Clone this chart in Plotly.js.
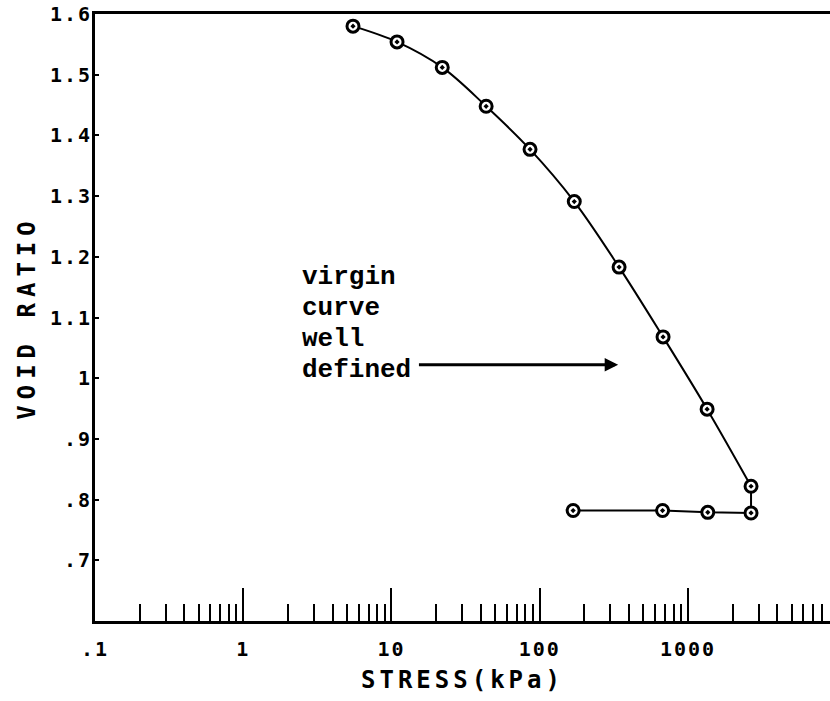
<!DOCTYPE html>
<html>
<head>
<meta charset="utf-8">
<script src="https://cdn.plot.ly/plotly-3.0.1.min.js"></script>
<style>
  html, body { margin: 0; padding: 0; background: #fff; }
  #chart { width: 830px; height: 701px; }
  .xtitle { letter-spacing: 4px; }
  .ytitle { letter-spacing: 6px; }
  .xtick text, .ytick text { letter-spacing: 2px; }
</style>
</head>
<body>
<div id="chart"></div>
<script>
// ---- data ----
const loadStress = [5.5, 10.9, 22.0, 43.5, 86, 171, 343, 679, 1346, 2663];
const loadVoid   = [1.580, 1.554, 1.512, 1.448, 1.377, 1.291, 1.183, 1.068, 0.949, 0.822];
const unloadStress = [2663, 1360, 674, 168];
const unloadVoid   = [0.778, 0.779, 0.782, 0.782];

const xTickVals = [0.1, 1, 10, 100, 1000];
const xTickText = [".1", "1", "10", "100", "1000"];
const xMinorVals = [0.2,0.3,0.4,0.5,0.6,0.7,0.8,0.9,
                    2,3,4,5,6,7,8,9,
                    20,30,40,50,60,70,80,90,
                    200,300,400,500,600,700,800,900,
                    2000,3000,4000,5000,6000,7000,8000,9000];
const yTickVals = [1.6, 1.5, 1.4, 1.3, 1.2, 1.1, 1.0, 0.9, 0.8, 0.7];
const yTickText = ["1.6", "1.5", "1.4", "1.3", "1.2", "1.1", "1", ".9", ".8", ".7"];

const noteLines = ["virgin", "curve", "well", "defined"];

// ---- traces ----
const loadLine = {
  x: loadStress, y: loadVoid, type: 'scatter', mode: 'lines',
  line: {color: '#000', width: 2, shape: 'spline', smoothing: 1},
  hoverinfo: 'skip', showlegend: false
};
const unloadLine = {
  x: [loadStress[loadStress.length - 1]].concat(unloadStress),
  y: [loadVoid[loadVoid.length - 1]].concat(unloadVoid),
  type: 'scatter', mode: 'lines',
  line: {color: '#000', width: 2},
  hoverinfo: 'skip', showlegend: false
};
const markers = {
  x: loadStress.concat(unloadStress),
  y: loadVoid.concat(unloadVoid),
  type: 'scatter', mode: 'markers',
  marker: {symbol: 'circle-dot', size: 12, color: '#fff', line: {color: '#000', width: 3}},
  cliponaxis: false, showlegend: false
};

// ---- annotations ----
const textLeft = 0.384;       // log10 position of the note's left edge
const textTop = 1.166;
const textStep = 0.051;
const annotations = noteLines.map((t, i) => ({
  x: textLeft, y: textTop - i * textStep, xref: 'x', yref: 'y',
  text: t, showarrow: false, xanchor: 'left', yanchor: 'middle',
  font: {family: 'Liberation Mono, DejaVu Sans Mono, monospace', size: 26, color: '#000', weight: 'bold'}
}));
annotations.push({
  x: 2.529, y: 1.022, xref: 'x', yref: 'y',
  ax: 1.175, ay: 1.022, axref: 'x', ayref: 'y',
  text: '', showarrow: true, arrowhead: 2, arrowsize: 0.9, arrowwidth: 3, arrowcolor: '#000'
});

const layout = {
  width: 830, height: 701,
  margin: {l: 95, r: 0, t: 14, b: 80},
  paper_bgcolor: '#fff', plot_bgcolor: '#fff',
  showlegend: false,
  xaxis: {
    type: 'log', range: [-1, 3.958],
    showgrid: false, zeroline: false,
    showline: true, linecolor: '#000', linewidth: 3, mirror: true,
    tickmode: 'array', tickvals: xTickVals, ticktext: xTickText,
    ticks: 'inside', ticklen: 33, tickwidth: 2, tickcolor: '#000',
    ticklabelstandoff: 8,
    minor: {tickmode: 'array', tickvals: xMinorVals, ticks: 'inside', ticklen: 17, tickwidth: 2, tickcolor: '#000', showgrid: false},
    tickfont: {family: 'DejaVu Sans Mono, monospace', size: 20, color: '#000', weight: 'bold'},
    title: {text: 'STRESS(kPa)', standoff: 12,
            font: {family: 'DejaVu Sans Mono, monospace', size: 24, color: '#000', weight: 'bold'}}
  },
  yaxis: {
    range: [0.6, 1.6],
    showgrid: false, zeroline: false,
    showline: true, linecolor: '#000', linewidth: 3,
    tickmode: 'array', tickvals: yTickVals, ticktext: yTickText,
    ticks: 'inside', ticklen: 4, tickwidth: 2, tickcolor: '#000',
    ticklabelstandoff: -4,
    tickfont: {family: 'DejaVu Sans Mono, monospace', size: 20, color: '#000', weight: 'bold'},
    title: {text: 'VOID RATIO', standoff: 8,
            font: {family: 'DejaVu Sans Mono, monospace', size: 24, color: '#000', weight: 'bold'}}
  },
  annotations: annotations
};

Plotly.newPlot('chart', [loadLine, unloadLine, markers], layout, {staticPlot: true, displayModeBar: false});
</script>
</body>
</html>
